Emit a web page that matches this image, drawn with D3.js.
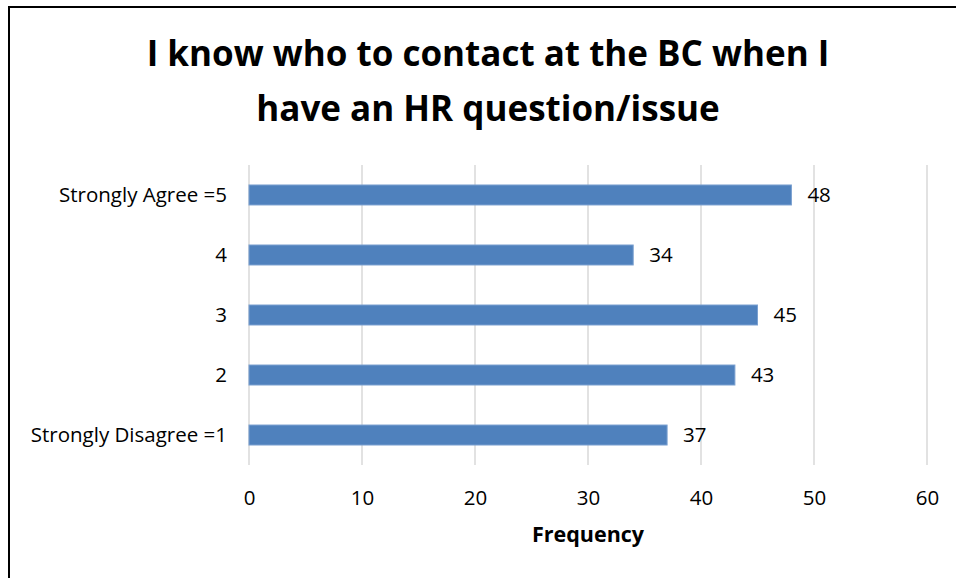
<!DOCTYPE html>
<html>
<head>
<meta charset="utf-8">
<script src="https://cdn.jsdelivr.net/npm/d3@7"></script>
<style>
  html, body { margin: 0; padding: 0; background: #fff; }
  svg { display: block; }
</style>
</head>
<body>
<svg id="chart" width="956" height="578"></svg>
<script>
// Survey responses, listed from top to bottom
const categories = ["Strongly Agree =5", "4", "3", "2", "Strongly Disagree =1"];
const frequencies = [48, 34, 45, 43, 37];
const xTicks = [0, 10, 20, 30, 40, 50, 60];
const titleLines = ["I know who to contact at the BC when I", "have an HR question/issue"];
const xAxisTitle = "Frequency";

const font = "'Open Sans', 'Liberation Sans', sans-serif";
const labelSize = 20.5;
const svg = d3.select("#chart");

// Outer frame
svg.append("rect")
  .attr("x", 9).attr("y", 7)
  .attr("width", 1000).attr("height", 1000)
  .attr("fill", "#fff")
  .attr("stroke", "#000").attr("stroke-width", 2);

const plot = { left: 249, right: 927, top: 165, bottom: 465 };

const x = d3.scaleLinear().domain([0, 60]).range([plot.left, plot.right]);
const y = d3.scaleBand().domain(categories).range([plot.top, plot.bottom]).paddingInner(0.667).paddingOuter(0.333);

// Vertical gridlines
svg.append("g").selectAll("line").data(xTicks).join("line")
  .attr("x1", d => x(d)).attr("x2", d => x(d))
  .attr("y1", plot.top).attr("y2", plot.bottom)
  .attr("stroke", "#d9d9d9").attr("stroke-width", 1.5);

// Bottom axis labels (no domain line, no tick marks)
const xAxis = d3.axisBottom(x).tickValues(xTicks).tickSize(0).tickPadding(0);
const gx = svg.append("g").attr("transform", `translate(0,${plot.bottom})`).call(xAxis);
gx.select(".domain").remove();
gx.selectAll("text")
  .attr("dy", null).attr("y", 40)
  .attr("font-family", font).attr("font-size", labelSize).attr("fill", "#000");

// Left axis category labels
const yAxis = d3.axisLeft(y).tickSize(0).tickPadding(22);
const gy = svg.append("g").attr("transform", `translate(${plot.left},0)`).call(yAxis);
gy.select(".domain").remove();
gy.selectAll("text")
  .attr("font-family", font).attr("font-size", labelSize).attr("fill", "#000");

// Bars
svg.append("g").selectAll("rect").data(frequencies).join("rect")
  .attr("x", x(0))
  .attr("y", (d, i) => y(categories[i]))
  .attr("width", d => x(d) - x(0))
  .attr("height", y.bandwidth())
  .attr("fill", "#4f81bd")
  .attr("stroke", "#7aa0d0").attr("stroke-width", 1);

// Value labels
svg.append("g").selectAll("text").data(frequencies).join("text")
  .attr("x", d => x(d) + 16)
  .attr("y", (d, i) => y(categories[i]) + y.bandwidth() / 2)
  .attr("dy", "0.36em")
  .attr("font-family", font).attr("font-size", labelSize).attr("fill", "#000")
  .text(d => d);

// Title
svg.append("g").selectAll("text").data(titleLines).join("text")
  .attr("x", 488)
  .attr("y", (d, i) => 66 + i * 55)
  .attr("text-anchor", "middle")
  .attr("font-family", font).attr("font-weight", "bold").attr("font-size", 35).attr("fill", "#000")
  .text(d => d);

// Axis title
svg.append("text")
  .attr("x", x(30)).attr("y", 542)
  .attr("text-anchor", "middle")
  .attr("font-family", font).attr("font-weight", "bold").attr("font-size", 21.5).attr("fill", "#000")
  .text(xAxisTitle);
</script>
</body>
</html>
